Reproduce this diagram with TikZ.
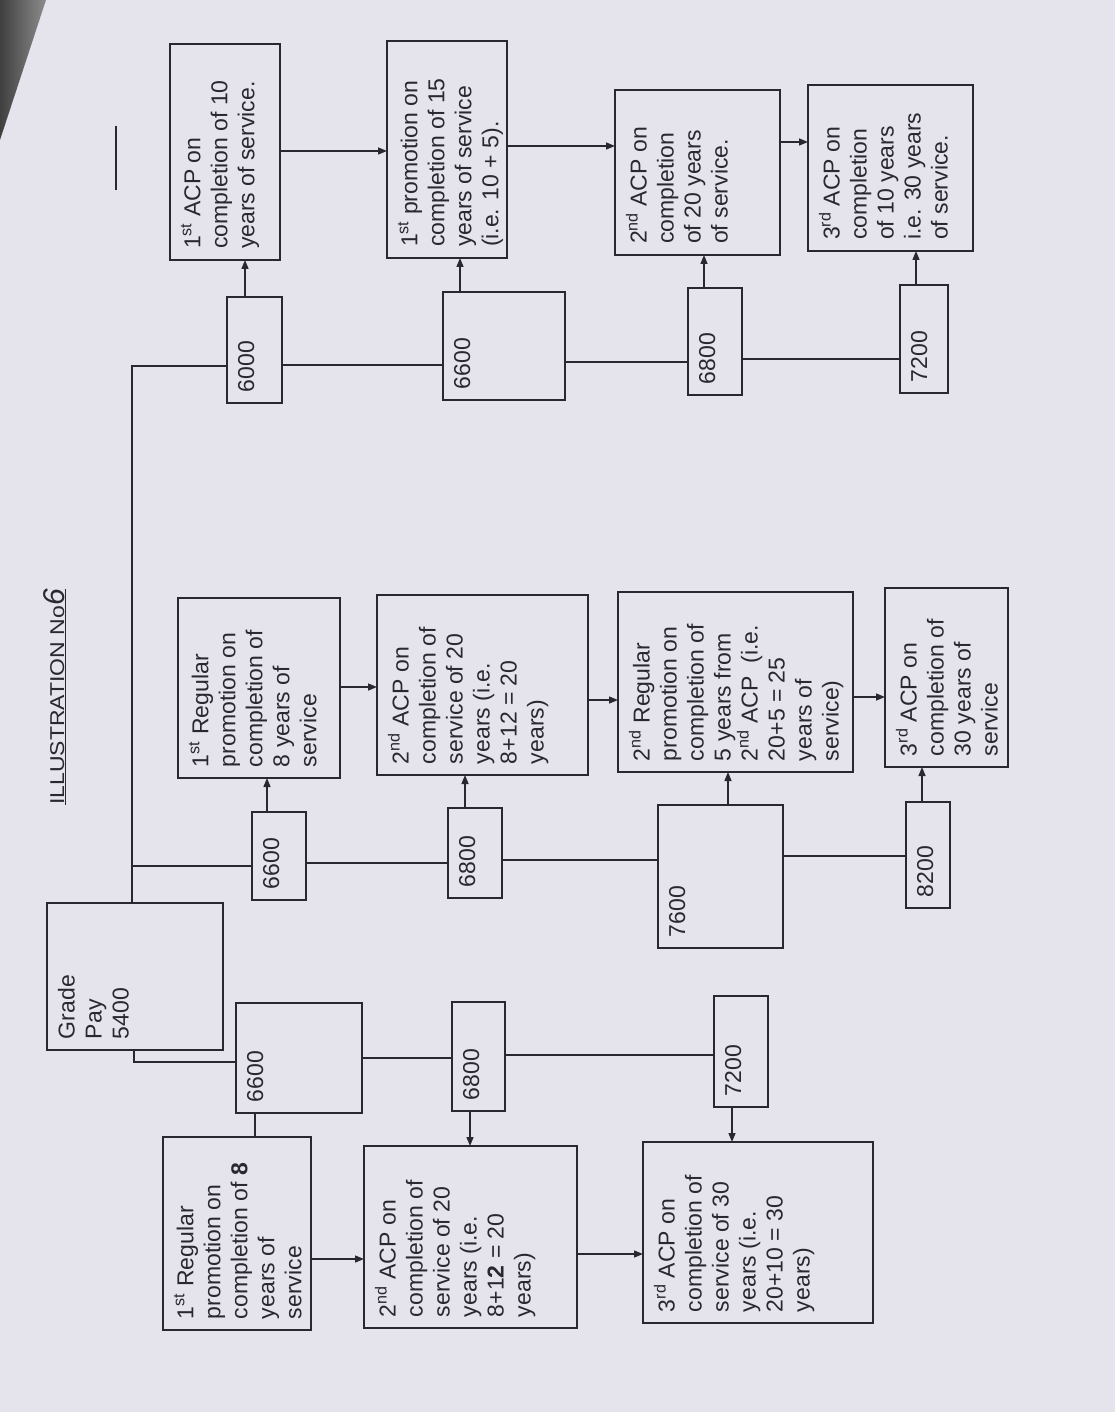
\documentclass[tikz,border=0pt]{standalone}
\usepackage{fontspec}
\setmainfont{Liberation Sans}
\usepackage{graphicx}
\usetikzlibrary{arrows.meta}
\definecolor{paper}{RGB}{229,228,237}
\definecolor{ink}{RGB}{40,40,46}
\newcommand{\rt}[3]{\rotatebox{90}{\parbox[c][#2][t]{#1}{\raggedright #3}}}
\newcommand{\sx}[1]{\textsuperscript{#1}}
\newcommand{\PB}[6]{%
  \pgfmathsetmacro{\PBw}{#4-#2-22}%
  \pgfmathsetmacro{\PBh}{#5-#3-22}%
  \node[bx,anchor=north west] (#1) at (#2,#3) {\rt{\PBh pt}{\PBw pt}{#6}};%
}
\tikzset{
  bx/.style={draw=ink, line width=1.8pt, inner sep=11pt, outer sep=0pt, minimum size=0pt,
    text=ink, font=\fontsize{23}{27}\selectfont},
  ln/.style={draw=ink, line width=1.4pt},
  arr/.style={ln, -{Triangle[length=9pt,width=7pt]}}
}
\begin{document}
\begin{tikzpicture}[x=1pt,y=-1pt]
\useasboundingbox (0,0) rectangle (1115,1412);
\fill[paper] (0,0) rectangle (1115,1412);
\shade[left color=black!75, right color=black!45] (0,0) -- (46,0) -- (0,140) -- cycle;

% title
\node[rotate=90, anchor=base west, inner sep=0pt, text=ink, font=\fontsize{20}{24}\selectfont] (title) at (64,805)
  {\underline{\scalebox{1.15}[1]{ILLUSTRATION No}{\fontsize{30}{30}\selectfont\itshape 6}}};
\coordinate (m1) at (116,126);
\coordinate (m2) at (116,190);
\draw[ln] (m1) -- (m2);

% top row
\PB{A1}{170}{44}{280}{260}{1\sx{st} ACP on\\completion of 10\\years of service.}
\PB{A2}{387}{41}{507}{258}{1\sx{st} promotion on\\completion of 15\\years of service\\(i.e. 10 + 5).}
\PB{A3}{615}{90}{780}{255}{2\sx{nd} ACP on\\completion\\of 20 years\\of service.}
\PB{A4}{808}{85}{973}{251}{3\sx{rd} ACP on\\completion\\of 10 years\\i.e. 30 years\\of service.}
\PB{P6000}{227}{297}{282}{403}{6000}
\PB{P6600}{443}{292}{565}{400}{6600}
\PB{P6800}{688}{288}{742}{395}{6800}
\PB{P7200}{900}{285}{948}{393}{7200}

% middle row
\PB{B1}{178}{598}{340}{778}{1\sx{st} Regular\\promotion on\\completion of\\8 years of\\service}
\PB{B2}{377}{595}{588}{775}{2\sx{nd} ACP on\\completion of\\service of 20\\years (i.e.\\8+12 = 20\\years)}
\PB{B3}{618}{592}{853}{772}{2\sx{nd} Regular\\promotion on\\completion of\\5 years from\\2\sx{nd} ACP\ \ (i.e.\\20+5 = 25\\years of\\service)}
\PB{B4}{885}{588}{1008}{767}{3\sx{rd} ACP on\\completion of\\30 years of\\service}
\PB{Q6600}{252}{812}{306}{900}{6600}
\PB{Q6800}{448}{808}{502}{898}{6800}
\PB{Q7600}{658}{805}{783}{948}{7600}
\PB{Q8200}{906}{802}{950}{908}{8200}

% bottom row
\PB{GP}{47}{903}{223}{1050}{Grade\\Pay\\5400}
\PB{R6600}{236}{1003}{362}{1113}{6600}
\PB{R6800}{452}{1002}{505}{1111}{6800}
\PB{R7200}{714}{996}{768}{1107}{7200}
\PB{C1}{163}{1137}{311}{1330}{1\sx{st} Regular\\promotion on\\completion of \textbf{8}\\years of\\service}
\PB{C2}{364}{1146}{577}{1328}{2\sx{nd} ACP on\\completion of\\service of 20\\years (i.e.\\8+1\textbf{2} = 20\\years)}
\PB{C3}{643}{1142}{873}{1323}{3\sx{rd} ACP on\\completion of\\service of 30\\years (i.e.\\20+10 = 30\\years)}

% trunk
\draw[ln] (GP.north -| 132,0) |- (P6000.west |- 0,366);
\draw[ln] (GP.north -| 132,0) |- (Q6600.west |- 0,866);
\draw[ln] (GP.south -| 134,0) |- (R6600.west |- 0,1062);

% top row connectors
\draw[ln] (P6000.east |- 0,365) -- (P6600.west |- 0,365);
\draw[ln] (P6600.east |- 0,362) -- (P6800.west |- 0,362);
\draw[ln] (P6800.east |- 0,359) -- (P7200.west |- 0,359);
\draw[arr] (P6000.north -| 245,0) -- (A1.south -| 245,0);
\draw[arr] (P6600.north -| 460,0) -- (A2.south -| 460,0);
\draw[arr] (P6800.north -| 704,0) -- (A3.south -| 704,0);
\draw[arr] (P7200.north -| 916,0) -- (A4.south -| 916,0);
\draw[arr] (A1.east |- 0,151) -- (A2.west |- 0,151);
\draw[arr] (A2.east |- 0,146) -- (A3.west |- 0,146);
\draw[arr] (A3.east |- 0,142) -- (A4.west |- 0,142);

% middle row connectors
\draw[ln] (Q6600.east |- 0,863) -- (Q6800.west |- 0,863);
\draw[ln] (Q6800.east |- 0,860) -- (Q7600.west |- 0,860);
\draw[ln] (Q7600.east |- 0,856) -- (Q8200.west |- 0,856);
\draw[arr] (Q6600.north -| 267,0) -- (B1.south -| 267,0);
\draw[arr] (Q6800.north -| 465,0) -- (B2.south -| 465,0);
\draw[arr] (Q7600.north -| 728,0) -- (B3.south -| 728,0);
\draw[arr] (Q8200.north -| 922,0) -- (B4.south -| 922,0);
\draw[arr] (B1.east |- 0,687) -- (B2.west |- 0,687);
\draw[arr] (B2.east |- 0,700) -- (B3.west |- 0,700);
\draw[arr] (B3.east |- 0,697) -- (B4.west |- 0,697);

% bottom row connectors
\draw[ln] (R6600.east |- 0,1058) -- (R6800.west |- 0,1058);
\draw[ln] (R6800.east |- 0,1055) -- (R7200.west |- 0,1055);
\draw[ln] (R6600.south -| 255,0) -- (C1.north -| 255,0);
\draw[arr] (R6800.south -| 470,0) -- (C2.north -| 470,0);
\draw[arr] (R7200.south -| 732,0) -- (C3.north -| 732,0);
\draw[arr] (C1.east |- 0,1259) -- (C2.west |- 0,1259);
\draw[arr] (C2.east |- 0,1254) -- (C3.west |- 0,1254);
\end{tikzpicture}
\end{document}
